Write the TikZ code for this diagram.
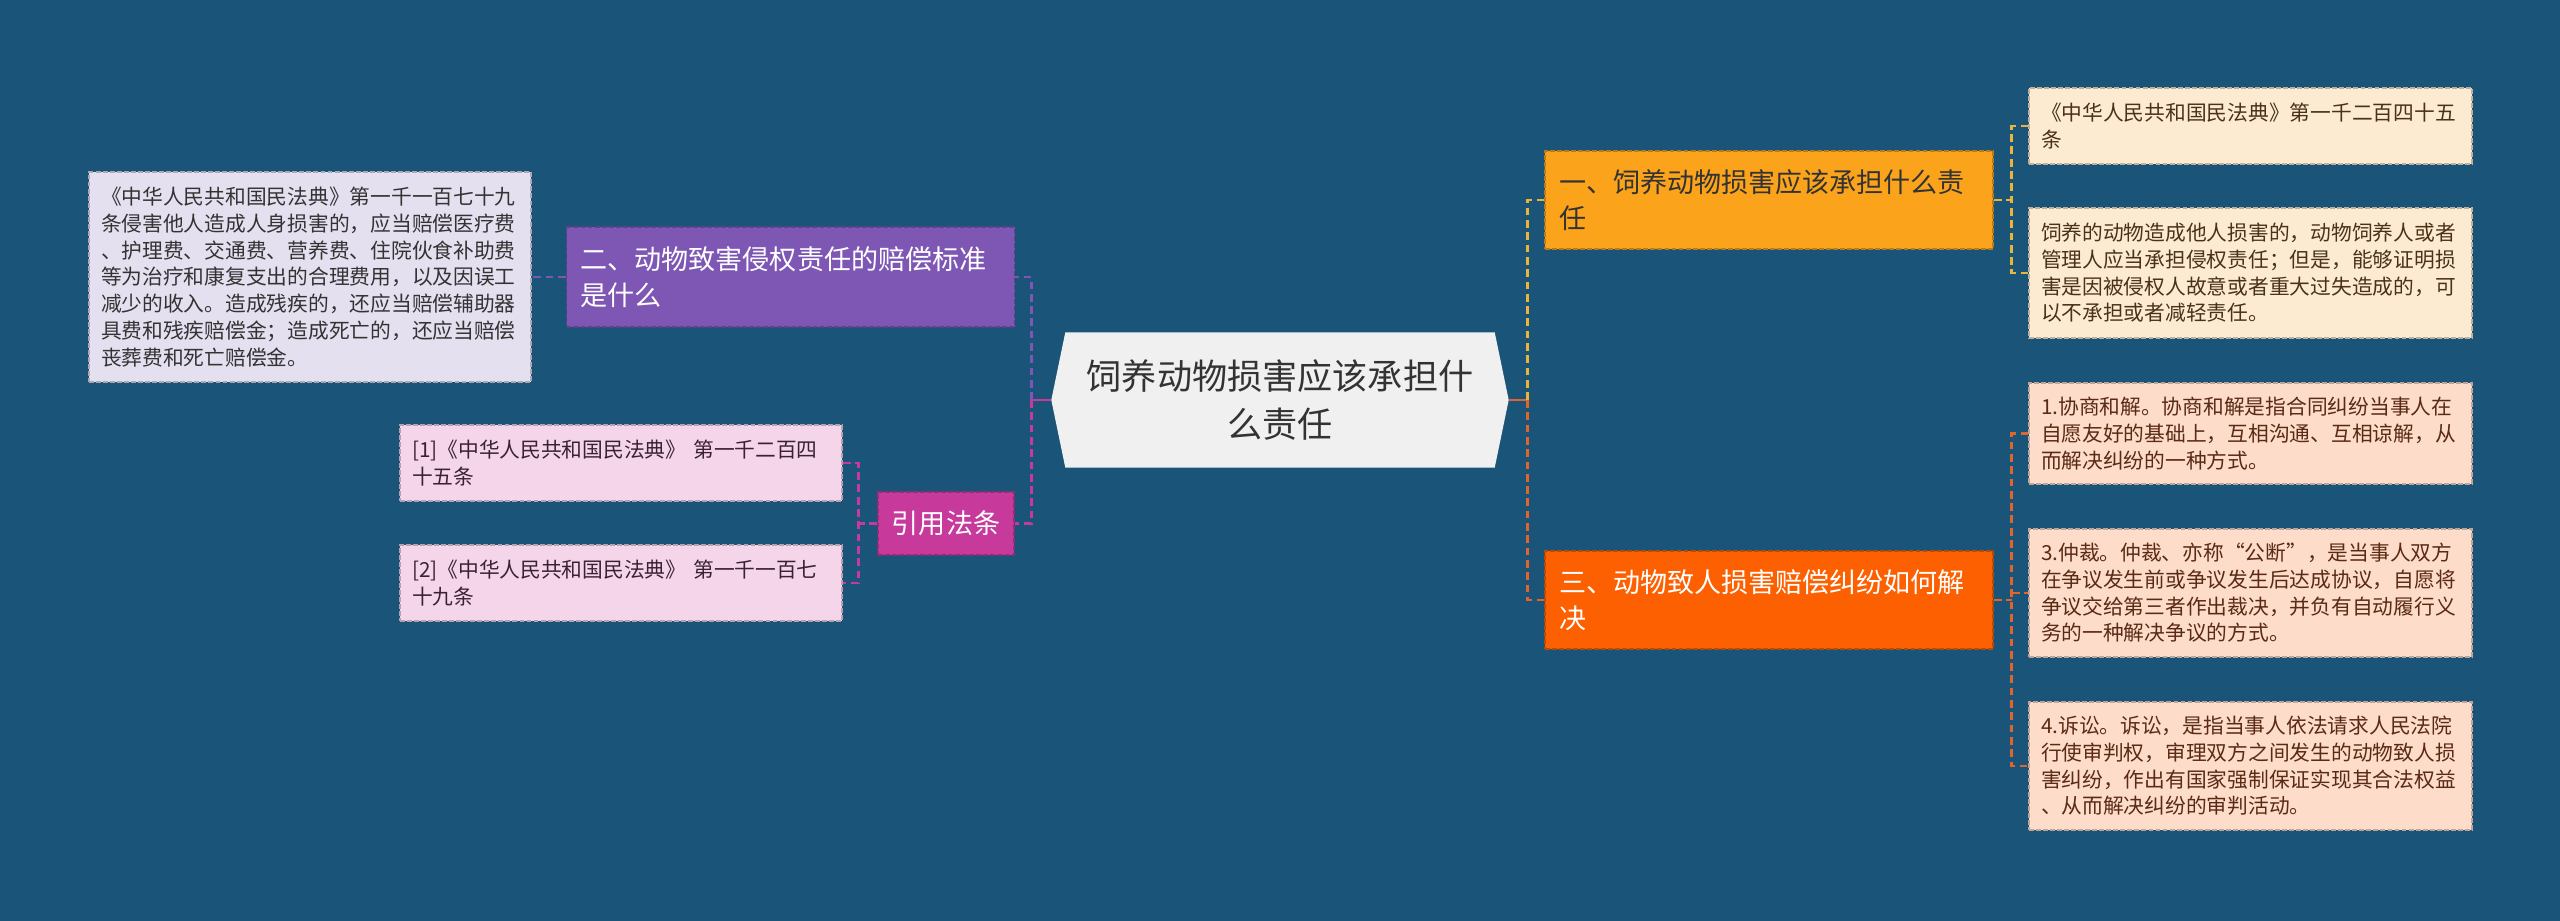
\documentclass[tikz,border=0pt]{standalone}
\usepackage{fontspec}
\newfontfamily\cjk{Noto Sans CJK SC}
\usetikzlibrary{backgrounds}
\definecolor{cbg}{HTML}{1A5478}
\definecolor{chex}{HTML}{F0F0F0}
\definecolor{corange}{HTML}{FAA31B}
\definecolor{cred}{HTML}{FD6000}
\definecolor{cpurple}{HTML}{7E57B4}
\definecolor{cmagenta}{HTML}{C7399B}
\definecolor{clavender}{HTML}{E5E0F0}
\definecolor{cpink}{HTML}{F4D5EA}
\definecolor{ccream}{HTML}{FDEBD1}
\definecolor{cpeach}{HTML}{FDDCCA}
\definecolor{cyline}{HTML}{E8B43A}
\definecolor{coline}{HTML}{E0652C}
\definecolor{cdark}{HTML}{333333}
\definecolor{cbrown}{HTML}{4A3218}
\definecolor{crust}{HTML}{5A2A14}
\definecolor{cplum}{HTML}{3A2233}
\tikzset{
  every picture/.style={font=\cjk},
  topic/.style={draw=#1!75!black, fill=#1, line width=0.45pt, dash pattern=on 1.4pt off 0.6pt, align=left, inner xsep=0.14cm, inner ysep=0pt, text width=4.2cm, minimum height=0.98cm, font=\cjk\fontsize{7.7}{10.2}\selectfont},
  leaf/.style={draw=#1!75!black, fill=#1, line width=0.45pt, dash pattern=on 1.4pt off 0.6pt, align=left, inner xsep=0.12cm, inner ysep=0pt, text width=4.18cm, font=\cjk\fontsize{5.9}{7.6}\selectfont},
  link/.style={draw=#1, line width=0.8pt, dash pattern=on 2.2pt off 1.3pt},
  stub/.style={draw=#1, line width=0.8pt},
}

\begin{document}
\begin{tikzpicture}
  \useasboundingbox (0,0) rectangle (25.6,-9.21);
  \node[align=center, minimum width=4.56cm, minimum height=1.34cm, inner sep=0pt, text=cdark, font=\cjk\fontsize{10}{13.7}\selectfont] (root) at (12.80,-4.00) {饲养动物损害应该承担什\\么责任};
  \begin{scope}[on background layer]
    \fill[cbg] (0,0) rectangle (25.6,-9.21);
    \fill[chex] (root.west) -- ([xshift=0.14cm]root.north west) -- ([xshift=-0.14cm]root.north east) -- (root.east) -- ([xshift=-0.14cm]root.south east) -- ([xshift=0.14cm]root.south west) -- cycle;
  \end{scope}

  \node[topic=corange, text=cdark] (b1) at (17.69,-2.00) {一、饲养动物损害应该承担什么责\\任};
  \node[topic=cred, text=white] (b3) at (17.69,-6.00) {三、动物致人损害赔偿纠纷如何解\\决};
  \node[topic=cpurple, text=white, minimum height=1.00cm] (b2) at (7.905,-2.77) {二、动物致害侵权责任的赔偿标准\\是什么};
  \node[topic=cmagenta, text=white, align=center, text width=1.1cm, inner xsep=0.13cm, minimum height=0.63cm] (cite) at (9.46,-5.235) {引用法条};

  \node[leaf=clavender, text=cdark, minimum height=2.10cm] (law) at (3.10,-2.77) {《中华人民共和国民法典》第一千一百七十九\\条侵害他人造成人身损害的，应当赔偿医疗费\\、护理费、交通费、营养费、住院伙食补助费\\等为治疗和康复支出的合理费用，以及因误工\\减少的收入。造成残疾的，还应当赔偿辅助器\\具费和残疾赔偿金；造成死亡的，还应当赔偿\\丧葬费和死亡赔偿金。};
  \node[leaf=cpink, text=cplum, minimum height=0.76cm] (ref1) at (6.21,-4.63) {[1]《中华人民共和国民法典》~第一千二百四\\十五条};
  \node[leaf=cpink, text=cplum, minimum height=0.76cm] (ref2) at (6.21,-5.83) {[2]《中华人民共和国民法典》~第一千一百七\\十九条};

  \node[leaf=ccream, text=cbrown, minimum height=0.76cm, text width=4.19cm] (art) at (22.505,-1.26) {《中华人民共和国民法典》第一千二百四十五\\条};
  \node[leaf=ccream, text=cbrown, minimum height=1.30cm, text width=4.19cm] (duty) at (22.505,-2.73) {饲养的动物造成他人损害的，动物饲养人或者\\管理人应当承担侵权责任；但是，能够证明损\\害是因被侵权人故意或者重大过失造成的，可\\以不承担或者减轻责任。};
  \node[leaf=cpeach, text=crust, minimum height=1.01cm, text width=4.19cm] (nego) at (22.505,-4.335) {1.协商和解。协商和解是指合同纠纷当事人在\\自愿友好的基础上，互相沟通、互相谅解，从\\而解决纠纷的一种方式。};
  \node[leaf=cpeach, text=crust, minimum height=1.28cm, text width=4.19cm] (arbi) at (22.505,-5.93) {3.仲裁。仲裁、亦称“公断”，是当事人双方\\在争议发生前或争议发生后达成协议，自愿将\\争议交给第三者作出裁决，并负有自动履行义\\务的一种解决争议的方式。};
  \node[leaf=cpeach, text=crust, minimum height=1.28cm, text width=4.19cm] (suit) at (22.505,-7.66) {4.诉讼。诉讼，是指当事人依法请求人民法院\\行使审判权，审理双方之间发生的动物致人损\\害纠纷，作出有国家强制保证实现其合法权益\\、从而解决纠纷的审判活动。};

  \draw[stub=cmagenta] (root.west) -- ++(-0.20,0) coordinate (jl);
  \draw[link=cpurple] (jl) -- (jl |- b2.east) -- (b2.east);
  \draw[link=cmagenta] (jl) -- (jl |- cite.east) -- (cite.east);
  \draw[stub=coline] (root.east) -- ++(0.19,0) coordinate (jr);
  \draw[link=cyline] (jr) -- (jr |- b1.west) -- (b1.west);
  \draw[link=coline] (jr) -- (jr |- b3.west) -- (b3.west);

  \draw[link=cpurple] (b2.west) -- (law.east);
  \draw[link=cmagenta] (cite.west) -- ++(-0.19,0) coordinate (jc);
  \draw[link=cmagenta] (ref1.east) -- (jc |- ref1.east) -- (jc |- ref2.east) -- (ref2.east);

  \draw[link=cyline] (b1.east) -- ++(0.18,0) coordinate (ja);
  \draw[link=cyline] (art.west) -- (ja |- art.west) -- (ja |- duty.west) -- (duty.west);
  \draw[link=coline] (b3.east) -- ++(0.18,0) coordinate (jb);
  \draw[link=coline] (nego.west) -- (jb |- nego.west) -- (jb |- suit.west) -- (suit.west);
  \draw[link=coline] (jb |- arbi.west) -- (arbi.west);
\end{tikzpicture}
\end{document}
